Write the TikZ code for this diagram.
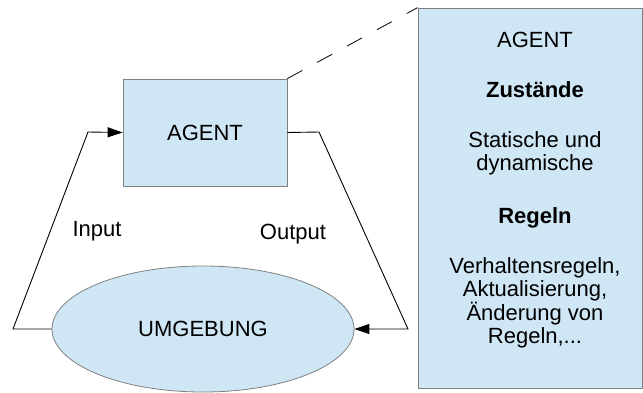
\documentclass[tikz,border=0pt]{standalone}
\usepackage{fontspec}
\setmainfont{Liberation Sans}
\usetikzlibrary{arrows.meta,shapes.geometric}

\definecolor{paleblue}{RGB}{207,230,244}

\tikzstyle{block}=[draw=gray, fill=paleblue, line width=0.8pt, inner sep=0pt]
\tikzstyle{lbl}=[anchor=base, inner sep=0pt]
\tikzstyle{flow}=[-{Triangle[length=15pt,width=10pt]}, line width=0.9pt]

\begin{document}
\begin{tikzpicture}[x=1pt, y=-1pt, font=\fontsize{22}{23.3}\selectfont]
    \useasboundingbox (0,0) rectangle (643,392);
    \node[block, minimum width=164pt, minimum height=107pt] (agent) at (205,132.5) {AGENT};
    \node[block, ellipse, minimum width=302pt, minimum height=126pt] (env) at (203,329) {UMGEBUNG};
    \node[block, minimum width=224pt, minimum height=380pt] (panel) at (530,198) {};
    \coordinate (inlow) at (13,329);
    \coordinate (inhigh) at (88,132);
    \coordinate (outhigh) at (319,132);
    \coordinate (outlow) at (408,329);
    \draw[flow] (env.west) -- (inlow) -- (inhigh) -- (agent.west);
    \draw[flow] (agent.east) -- (outhigh) -- (outlow) -- (env.east);
    \draw[line width=0.8pt, dash pattern=on 17pt off 17pt] (agent.north east) -- (panel.north west);
    \node[lbl] (input) at (97,236) {Input};
    \node[lbl] (output) at (293,239) {Output};
    % Inhalt der Detailbox
    \node[lbl] (title) at (535,47) {AGENT};
    \node[lbl, font=\fontsize{22}{23.3}\selectfont\bfseries] (states) at (535,97) {Zustände};
    \node[lbl] (st1) at (535,147) {Statische und};
    \node[lbl] (st2) at (535,170) {dynamische};
    \node[lbl, font=\fontsize{22}{23.3}\selectfont\bfseries] (rules) at (535,223) {Regeln};
    \node[lbl] (ru1) at (535,273) {Verhaltensregeln,};
    \node[lbl] (ru2) at (535,296.5) {Aktualisierung,};
    \node[lbl] (ru3) at (535,320) {Änderung von};
    \node[lbl] (ru4) at (535,343) {Regeln,...};
\end{tikzpicture}
\end{document}
